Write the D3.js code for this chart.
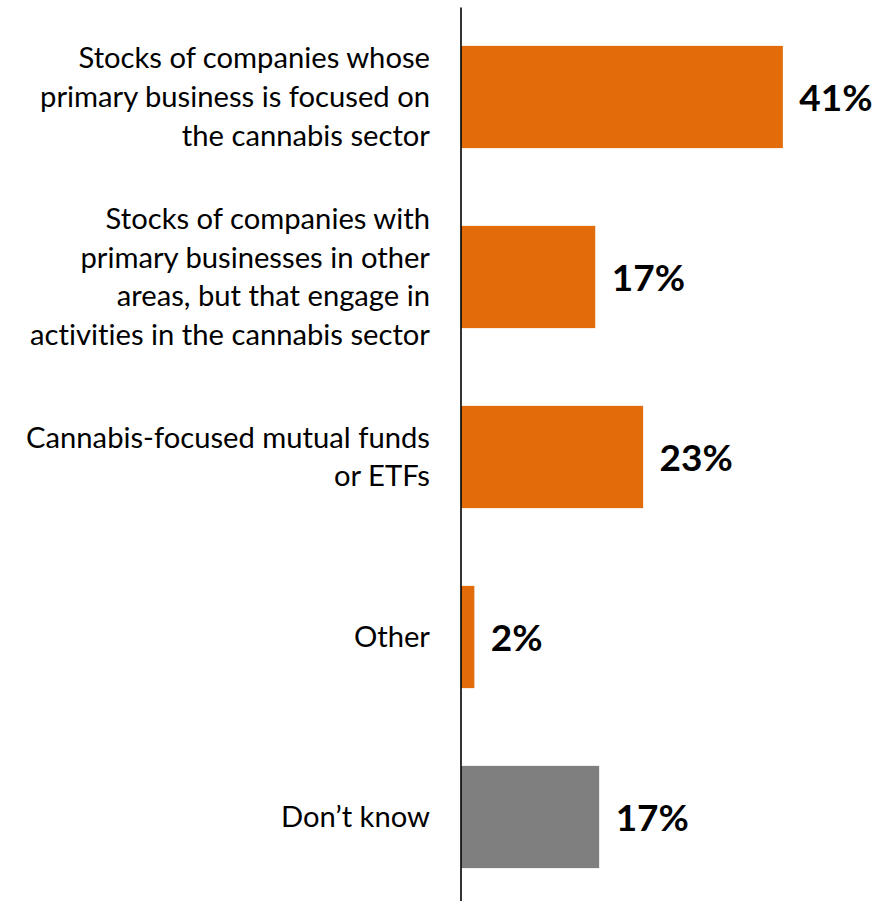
<!DOCTYPE html>
<html>
<head>
<meta charset="utf-8">
<script src="https://cdn.jsdelivr.net/npm/d3@7"></script>
<style>
  html, body { margin: 0; padding: 0; background: #fff; }
  svg { display: block; }
  text { font-variant-ligatures: none; font-feature-settings: "liga" 0, "clig" 0; }
</style>
</head>
<body>
<svg id="chart" width="885" height="901"></svg>
<script>
// ---- data ----
const categories = [
  "Stocks of companies whose primary business is focused on the cannabis sector",
  "Stocks of companies with primary businesses in other areas, but that engage in activities in the cannabis sector",
  "Cannabis-focused mutual funds or ETFs",
  "Other",
  "Don\u2019t know"
];
const categoryLines = [
  ["Stocks of companies whose", "primary business is focused on", "the cannabis sector"],
  ["Stocks of companies with", "primary businesses in other", "areas, but that engage in", "activities in the cannabis sector"],
  ["Cannabis-focused mutual funds", "or ETFs"],
  ["Other"],
  ["Don\u2019t know"]
];
const values = [41.0, 17.1, 23.2, 1.7, 17.6];
const valueLabels = ["41%", "17%", "23%", "2%", "17%"];
const barColors = ["#E36C0A", "#E36C0A", "#E36C0A", "#E36C0A", "#7F7F7F"];

// ---- layout ----
const svg = d3.select("#chart");
const axisX = 460.5;
const x = d3.scaleLinear().domain([0, 50]).range([461, 461 + 50 * 7.85]);
const y = d3.scaleBand().domain(categories).range([7, 907])
  .paddingInner(0.432).paddingOuter(0.216);

const fontFamily = "Lato, 'Open Sans', sans-serif";

// bars
svg.append("g").selectAll("rect").data(categories).join("rect")
  .attr("x", x(0))
  .attr("y", d => y(d))
  .attr("width", (d, i) => x(values[i]) - x(0))
  .attr("height", y.bandwidth())
  .attr("fill", (d, i) => barColors[i]);

// axis line (domain only)
const axis = d3.axisLeft(y).tickSize(0).tickSizeOuter(0).tickFormat("");
const ag = svg.append("g").attr("transform", `translate(${axisX},0)`).call(axis);
ag.select(".domain").attr("stroke", "#000").attr("stroke-width", 1.6);
ag.selectAll(".tick").remove();

// category labels
const labelSize = 29.2;
const lineH = 38.8;
const lg = svg.append("g")
  .attr("font-family", fontFamily)
  .attr("font-size", labelSize)
  .attr("fill", "#000")
  .attr("text-anchor", "end");
categories.forEach((c, i) => {
  const lines = categoryLines[i];
  const cy = y(c) + y.bandwidth() / 2;
  const t = lg.append("text");
  lines.forEach((ln, j) => {
    t.append("tspan")
      .attr("x", 430)
      .attr("y", cy + (j - (lines.length - 1) / 2) * lineH + 10)
      .text(ln);
  });
});

// value labels
svg.append("g")
  .attr("font-family", fontFamily)
  .attr("font-size", 37)
  .attr("font-weight", "bold")
  .attr("fill", "#000")
  .selectAll("text").data(categories).join("text")
  .attr("x", (d, i) => x(values[i]) + 16.5)
  .attr("y", d => y(d) + y.bandwidth() / 2 + 13.5)
  .text((d, i) => valueLabels[i]);
</script>
</body>
</html>
